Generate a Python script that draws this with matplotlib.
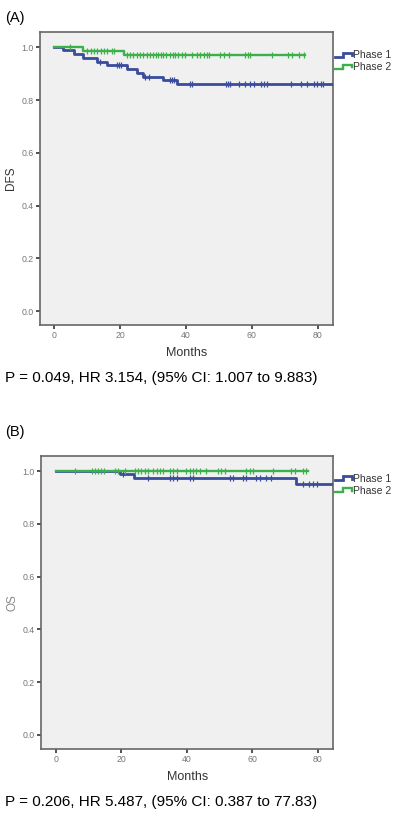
import numpy as np
import matplotlib
matplotlib.use("Agg")
import matplotlib.pyplot as plt
from matplotlib.lines import Line2D
from matplotlib.legend_handler import HandlerBase

plt.rcParams['font.family'] = ['Liberation Sans', 'DejaVu Sans']

BLUE = '#3a4c9c'
GREEN = '#3cb04a'

labels = ['Phase 1', 'Phase 2']

# (A) DFS
a_p1_times = [2.7, 5.8, 8.8, 12.9, 15.9, 22.0, 25.0, 27.0, 33.1, 37.2]
a_p1_surv = [0.989, 0.976, 0.960, 0.944, 0.934, 0.917, 0.904, 0.886, 0.875, 0.861]
a_p1_end = 85.0
a_p1_cens = [13.9, 19.0, 19.6, 20.2, 27.6, 28.6, 35.2, 35.8, 36.4, 41.2, 41.8,
             52.0, 52.7, 53.3, 56.0, 57.8, 59.5, 60.6, 62.8, 63.7, 64.5, 71.8,
             74.9, 76.9, 78.8, 79.9, 80.9, 81.6]

a_p2_times = [8.8, 21.0]
a_p2_surv = [0.987, 0.970]
a_p2_end = 76.2
a_p2_cens = [4.8, 10.0, 11.0, 12.0, 13.0, 14.0, 15.0, 16.0, 17.5, 18.2,
             22.0, 23.0, 24.0, 25.0, 26.0, 27.0, 28.0, 29.0, 30.1, 30.9, 31.6,
             32.3, 33.1, 33.9, 35.2, 36.0, 36.7, 37.7, 38.7, 39.7, 41.8, 43.3,
             44.3, 45.3, 46.3, 47.1, 50.4, 51.4, 52.9, 58.0, 58.7, 59.5, 66.1,
             71.1, 72.2, 74.2, 75.7]

# (B) OS
b_p1_times = [19.6, 23.9, 73.5]
b_p1_surv = [0.990, 0.975, 0.952]
b_p1_end = 84.6
b_p1_cens = [20.6, 28.2, 34.8, 35.8, 36.9, 41.0, 42.0, 53.2, 54.0, 57.2, 58.2,
             61.3, 62.3, 64.3, 65.8, 75.5, 77.2, 78.7, 79.7]

b_p2_times = []
b_p2_surv = []
b_p2_end = 77.0
b_p2_cens = [5.9, 11.0, 12.0, 13.0, 14.0, 14.7, 18.1, 19.1, 21.1, 24.2, 25.2,
             26.2, 27.2, 28.2, 29.8, 30.8, 31.8, 32.8, 34.8, 35.9, 36.9, 39.9,
             40.9, 42.0, 43.0, 44.0, 46.0, 49.6, 50.6, 51.6, 58.2, 59.2, 60.2,
             66.3, 71.9, 73.0, 75.5, 76.3]

xticks = [0, 20, 40, 60, 80]
yticks = [0.0, 0.2, 0.4, 0.6, 0.8, 1.0]


class StepHandler(HandlerBase):
    def create_artists(self, legend, orig_handle, xdescent, ydescent,
                       width, height, fontsize, trans):
        w, h = width, height
        xs = [-xdescent, -xdescent + 0.45 * w, -xdescent + 0.45 * w, -xdescent + w, -xdescent + w]
        ys = [-ydescent + 0.25 * h, -ydescent + 0.25 * h, -ydescent + 0.8 * h,
              -ydescent + 0.8 * h, -ydescent + 0.5 * h]
        ln = Line2D(xs, ys, color=orig_handle.get_color(),
                    lw=orig_handle.get_linewidth(), transform=trans,
                    solid_joinstyle='miter')
        return [ln]


def km(ax, times, surv, end, cens, color, lw, z):
    xs = [0] + list(times) + [end]
    ys = [1.0] + list(surv) + [surv[-1] if surv else 1.0]
    line, = ax.step(xs, ys, where='post', color=color, lw=lw, zorder=z)
    t = np.array([0] + list(times))
    s = np.array([1.0] + list(surv))
    idx = np.searchsorted(t, cens, side='right') - 1
    ax.plot(cens, s[idx], ls='none', marker='|', ms=5, mew=0.9, color=color, zorder=z)
    return line


def panel(ax, ylab, ylab_color, p1, p2):
    ax.set_facecolor('#f0f0f0')
    l1 = km(ax, *p1, BLUE, 2.0, 3)
    l2 = km(ax, *p2, GREEN, 1.7, 4)
    ax.set_xlim(-4.4, 84.7)
    ax.set_ylim(-0.053, 1.057)
    ax.set_xticks(xticks)
    ax.set_yticks(yticks)
    ax.set_yticklabels([f'{v:.1f}' for v in yticks])
    ax.tick_params(direction='out', length=3, width=1.1, color='#222222',
                   labelsize=6.3, labelcolor='#777777', pad=1.5)
    for sp in ax.spines.values():
        sp.set_color('#666666')
        sp.set_linewidth(1.2)
    ax.set_xlabel('Months', fontsize=9, color='#333333', labelpad=5)
    ax.set_ylabel(ylab, fontsize=8.5, color=ylab_color, labelpad=3)
    ax.legend([l1, l2], labels, handler_map={Line2D: StepHandler()},
              loc='upper left', bbox_to_anchor=(1.0, 0.945), frameon=False,
              fontsize=7.5, handlelength=1.6, handletextpad=0.15,
              labelspacing=0.2, borderpad=0, borderaxespad=0.2,
              labelcolor='#333333')


fig = plt.figure(figsize=(3.94, 8.15), dpi=100)
ax1 = fig.add_axes([0.1015, 0.601, 0.744, 0.3595])
ax2 = fig.add_axes([0.1045, 0.081, 0.741, 0.3595])

panel(ax1, 'DFS', '#333333',
      (a_p1_times, a_p1_surv, a_p1_end, a_p1_cens),
      (a_p2_times, a_p2_surv, a_p2_end, a_p2_cens))
panel(ax2, 'OS', '#888888',
      (b_p1_times, b_p1_surv, b_p1_end, b_p1_cens),
      (b_p2_times, b_p2_surv, b_p2_end, b_p2_cens))

fig.text(0.012, 0.987, '(A)', fontsize=10.5, va='top', ha='left')
fig.text(0.012, 0.479, '(B)', fontsize=10.5, va='top', ha='left')
fig.text(0.012, 1 - 378 / 815, 'P = 0.049, HR 3.154, (95% CI: 1.007 to 9.883)',
         fontsize=11, va='center', ha='left')
fig.text(0.012, 1 - 802 / 815, 'P = 0.206, HR 5.487, (95% CI: 0.387 to 77.83)',
         fontsize=11, va='center', ha='left')

fig.savefig('out.png', dpi=100)
